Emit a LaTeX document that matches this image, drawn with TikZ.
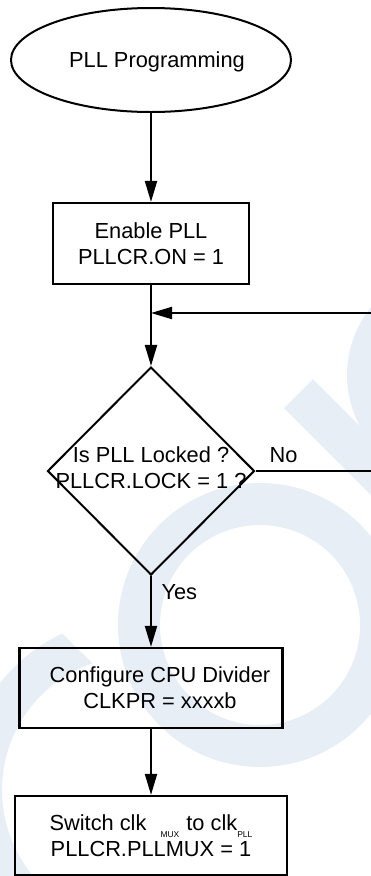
\documentclass[tikz,border=0pt]{standalone}
\usepackage{fontspec}
\setmainfont{Liberation Sans}
\usepackage{tikz}
\usetikzlibrary{shapes.geometric,arrows.meta}

\definecolor{wmblue}{RGB}{232,238,246}
\newcommand{\clkidx}[1]{\raisebox{-7pt}{\fontsize{8.5}{8.5}\selectfont #1}}

\begin{document}
\begin{tikzpicture}[x=1pt,y=-1pt,
    every node/.style={font=\fontsize{21.8}{26}\selectfont},
    startnode/.style={draw,ellipse,line width=2pt,minimum width=280,minimum height=104,inner sep=0pt,text depth=0pt},
    procbox/.style={draw,line width=2.2pt,align=center,inner sep=0pt},
    decision/.style={draw,diamond,line width=2pt,minimum width=207,minimum height=208,inner sep=0pt},
    wire/.style={line width=2pt},
    flow/.style={wire,-{Triangle[length=21pt,width=12pt]}}]
  \useasboundingbox (0,0) rectangle (371,876);

  % faint logo in the background
  \begin{scope}
    \clip (0,0) rectangle (371,876);
    \fill[wmblue,even odd rule] (260,625) circle[radius=142] (260,625) circle[radius=100];
    \fill[wmblue] ([shift={(136,790)}]244.8:173) arc[start angle=244.8,end angle=40,radius=173]
      -- ([shift={(136,790)}]40:134) arc[start angle=40,end angle=251,radius=134] -- cycle;
    \fill[wmblue] (455,375) circle[radius=108];
    \fill[wmblue] (284,408) -- (313,379) -- (400,466) -- (371,495) -- cycle;
  \end{scope}

  \node[startnode] (pllstart) at (151,60) {\hspace*{12pt}PLL Programming};
  \node[procbox,minimum width=196,minimum height=81] (pllen) at (151,243.5) {Enable PLL\\PLLCR.ON = 1};
  \node[decision] (lockchk) at (151,471) {};
  \node[align=center,yshift=3pt] (lockq) at (lockchk) {Is PLL Locked ?\\PLLCR.LOCK = 1 ?};
  \node[procbox,minimum width=263,minimum height=80] (cpudiv) at (151,688)
    {\hspace*{18pt}Configure CPU Divider\\\hspace*{18pt}CLKPR = xxxxb};
  \node[procbox,minimum width=272,minimum height=79] (muxsel) at (151,835.5)
    {Switch clk\hspace{14pt}\clkidx{MUX}\hspace{7pt}to clk\clkidx{PLL}\\PLLCR.PLLMUX = 1};

  \node[anchor=base west] (nolbl) at ([xshift=10.5pt,yshift=9pt]lockchk.east) {No};
  \node[anchor=base west] (yeslbl) at ([xshift=7pt,yshift=-23pt]lockchk.south) {Yes};

  \draw[flow] (pllstart) -- (pllen);
  \draw[flow] (pllen) -- (lockchk);
  \draw[flow] (lockchk) -- (cpudiv);
  \draw[flow] (cpudiv) -- (muxsel);

  % loop back while not locked
  \coordinate (loopin) at (371,313);
  \coordinate (loopout) at (371,471);
  \draw[wire] (lockchk.east) -- (loopout);
  \draw[flow] (loopin) -- (pllen.south |- loopin);
\end{tikzpicture}
\end{document}
